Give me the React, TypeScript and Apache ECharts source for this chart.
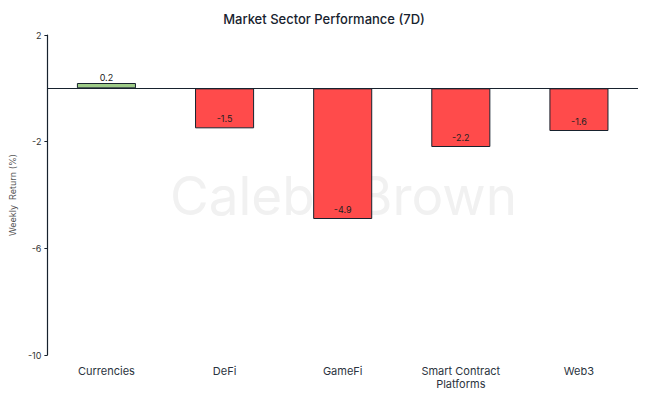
import React, { useEffect, useRef } from "react";
import * as echarts from "echarts";

const categories = ["Currencies", "DeFi", "GameFi", "Smart Contract\nPlatforms", "Web3"];
const values = [0.2, -1.5, -4.9, -2.2, -1.6];
const yMin = -10;
const yMax = 2;
const yInterval = 4;

const FONT = "Inter, 'Noto Sans', sans-serif";
const DARK = "#17222e";

export default function App() {
  const ref = useRef<HTMLDivElement>(null);
  useEffect(() => {
    if (!ref.current) return;
    const chart = echarts.init(ref.current, undefined, { renderer: "svg" });
    const data = values.map((v) => ({
      value: v,
      itemStyle: { color: v >= 0 ? "#9dcb87" : "#ff4b4b" },
      label: v >= 0 ? { position: "top", distance: 1 } : { position: "insideBottom", distance: 5 },
    }));
    const wm = { fontFamily: FONT, fontSize: 53, fill: "#f1f1f1" };
    chart.setOption({
      animation: false,
      backgroundColor: "#ffffff",
      textStyle: { fontFamily: FONT },
      title: {
        text: "Market Sector Performance (7D)",
        left: "center",
        top: 7,
        textStyle: { fontFamily: FONT, fontSize: 13, fontWeight: 500, color: DARK },
      },
      graphic: [
        {
          type: "group",
          z: -10,
          silent: true,
          children: [
            { type: "text", x: 170, y: 196, z: -10, style: { ...wm, text: "Caleb", align: "left", verticalAlign: "middle" } },
            { type: "text", x: 341, y: 196, z: -10, style: { ...wm, text: "&", fontSize: 44, align: "center", verticalAlign: "middle" } },
            { type: "text", x: 517, y: 196, z: -10, style: { ...wm, text: "Brown", align: "right", verticalAlign: "middle" } },
          ],
        },
      ],
      grid: { left: 46, right: 10, top: 35, bottom: 41 },
      xAxis: {
        type: "category",
        data: categories,
        position: "bottom",
        axisLine: { show: false, onZero: false },
        axisTick: { show: false },
        axisLabel: { fontSize: 11, color: "#2b3440", margin: 9, lineHeight: 13, fontFamily: FONT },
      },
      yAxis: {
        type: "value",
        min: yMin,
        max: yMax,
        interval: yInterval,
        name: "Weekly  Return (%)",
        nameLocation: "middle",
        nameGap: 28,
        nameTextStyle: { fontSize: 9, color: "#555", fontFamily: FONT },
        axisLine: { show: true, lineStyle: { color: DARK, width: 1.2 } },
        axisTick: { show: true, length: 3, lineStyle: { color: DARK } },
        splitLine: { show: false },
        axisLabel: { fontSize: 9, color: "#333", margin: 6, fontFamily: FONT },
      },
      series: [
        {
          type: "bar",
          data,
          barWidth: "50%",
          itemStyle: { borderColor: DARK, borderWidth: 1 },
          label: { show: true, fontSize: 9, color: "#222", fontFamily: FONT },
          markLine: {
            silent: true,
            symbol: "none",
            label: { show: false },
            lineStyle: { color: DARK, width: 1, type: "solid" },
            data: [{ yAxis: 0 }],
          },
        },
      ],
    });
    return () => chart.dispose();
  }, []);
  return <div ref={ref} style={{ width: 648, height: 396, position: "absolute", left: 0, top: 0 }} />;
}
